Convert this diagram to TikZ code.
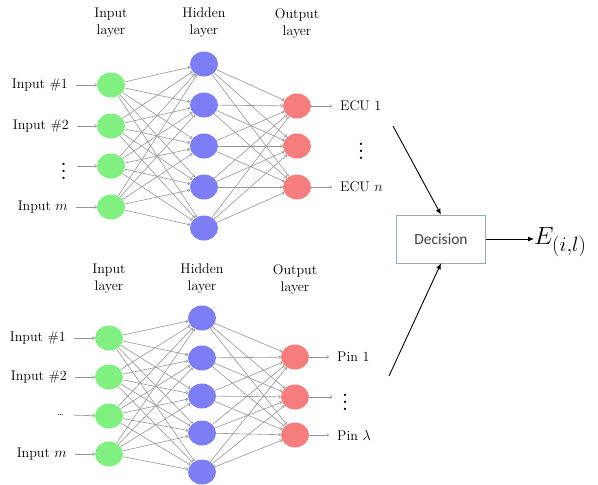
\documentclass[tikz,border=0pt]{standalone}
\usepackage{fontspec}
\newfontfamily\decfont{Carlito}
\usetikzlibrary{arrows.meta,shapes.geometric}
\definecolor{gN}{RGB}{128,240,128}
\definecolor{bN}{RGB}{125,125,245}
\definecolor{rN}{RGB}{245,125,125}
\definecolor{edgeC}{RGB}{150,150,150}
\definecolor{boxC}{RGB}{150,170,190}
\begin{document}
\begin{tikzpicture}[x=1pt,y=-1pt,
  neuron/.style={ellipse,minimum width=28pt,minimum height=25pt,inner sep=0pt},
  inN/.style={neuron,fill=gN},
  hidN/.style={neuron,fill=bN},
  outN/.style={neuron,fill=rN},
  conn/.style={draw=edgeC,line width=0.6pt,-{To[length=2.5pt,width=3.5pt]}},
  lbl/.style={font=\fontsize{14}{17}\selectfont,inner sep=0pt,text=black},
  vd/.style={font=\fontsize{14}{17}\selectfont,inner sep=0pt,text=black},
  big/.style={-{Latex[length=6pt,width=5pt]},line width=0.9pt}]
\useasboundingbox (0,0) rectangle (598,485);

% ---------- top network ----------
\foreach \i/\y in {1/85,2/126,3/166,4/207} \node[inN] (ti\i) at (111,\y) {};
\foreach \j/\y in {1/64,2/105,3/146,4/187,5/228} \node[hidN] (th\j) at (204,\y) {};
\foreach \k/\y in {1/106,2/146,3/187} \node[outN] (to\k) at (297,\y) {};
\foreach \i in {1,...,4} \foreach \j in {1,...,5} \draw[conn] (ti\i) -- (th\j);
\foreach \j in {1,...,5} \foreach \k in {1,...,3} \draw[conn] (th\j) -- (to\k);

\node[lbl,align=center] (tl1) at (111,23) {Input\\layer};
\node[lbl,align=center] (tl2) at (204,23) {Hidden\\layer};
\node[lbl,align=center] (tl3) at (297,23) {Output\\layer};

\node[lbl,anchor=east] (tin1) at (68,85) {Input \#1};
\node[lbl,anchor=east] (tin2) at (69,126) {Input \#2};
\node[vd,anchor=east] (tin3) at (67,166) {\scalebox{1.7}{$\vdots$}};
\node[lbl,anchor=east] (tin4) at (68,207) {Input $m$};
\foreach \i in {1,2,4} \draw[conn,shorten <=8pt] (tin\i.east) -- (ti\i);
\draw[conn,shorten <=10pt] (tin3.east) -- (ti3);

\node[lbl,anchor=west] (ecu1) at (340,106) {ECU 1};
\node[vd] (tdots) at (361,146) {\scalebox{1.7}{$\vdots$}};
\node[lbl,anchor=west] (ecun) at (340,187) {ECU $n$};
\draw[conn,shorten >=8pt] (to1) -- (ecu1.west);
\draw[conn,shorten >=8pt] (to3) -- (ecun.west);

% ---------- bottom network ----------
\foreach \i/\y in {1/338,2/377,3/416,4/454} \node[inN] (bi\i) at (109,\y) {};
\foreach \j/\y in {1/318,2/358,3/396,4/433,5/472} \node[hidN] (bh\j) at (202,\y) {};
\foreach \k/\y in {1/357,2/397,3/435} \node[outN] (bo\k) at (295,\y) {};
\foreach \i in {1,...,4} \foreach \j in {1,...,5} \draw[conn] (bi\i) -- (bh\j);
\foreach \j in {1,...,5} \foreach \k in {1,...,3} \draw[conn] (bh\j) -- (bo\k);

\node[lbl,align=center] (bl1) at (109,279) {Input\\layer};
\node[lbl,align=center] (bl2) at (202,279) {Hidden\\layer};
\node[lbl,align=center] (bl3) at (295,279) {Output\\layer};

\node[lbl,anchor=east] (bin1) at (66,338) {Input \#1};
\node[lbl,anchor=east] (bin2) at (67,377) {Input \#2};
\node[anchor=east,inner sep=0pt,font=\normalsize] (bin3) at (64,415) {\dots};
\node[lbl,anchor=east] (bin4) at (67,454) {Input $m$};
\foreach \i in {1,2,4} \draw[conn,shorten <=8pt] (bin\i.east) -- (bi\i);
\draw[conn,shorten <=10pt] (bin3.east) -- (bi3);

\node[lbl,anchor=west] (pin1) at (337,357) {Pin 1};
\node[vd] (bdots) at (345,397) {\scalebox{1.7}{$\vdots$}};
\node[lbl,anchor=west] (pinl) at (337,435) {Pin $\lambda$};
\draw[conn,shorten >=8pt] (bo1) -- (pin1.west);
\draw[conn,shorten >=9pt] (bo2) -- (bdots.west);
\draw[conn,shorten >=8pt] (bo3) -- (pinl.west);

% ---------- decision ----------
\node[draw=boxC,line width=0.6pt,minimum width=89pt,minimum height=48pt,
      font=\decfont\fontsize{15.5}{18}\selectfont,text=black!75] (dec) at (441,239) {Decision};
\node[anchor=west,inner sep=0pt] (E) at (534,242) {\fontsize{31}{36}\selectfont $E_{(i,l)}$};
\coordinate (ta) at (393,126);
\coordinate (ba) at (389,376);
\draw[big] (ta) -- (dec.north);
\draw[big] (ba) -- (dec.south);
\draw[big] (dec.east) -- (dec.east -| E.west);
\end{tikzpicture}
\end{document}
